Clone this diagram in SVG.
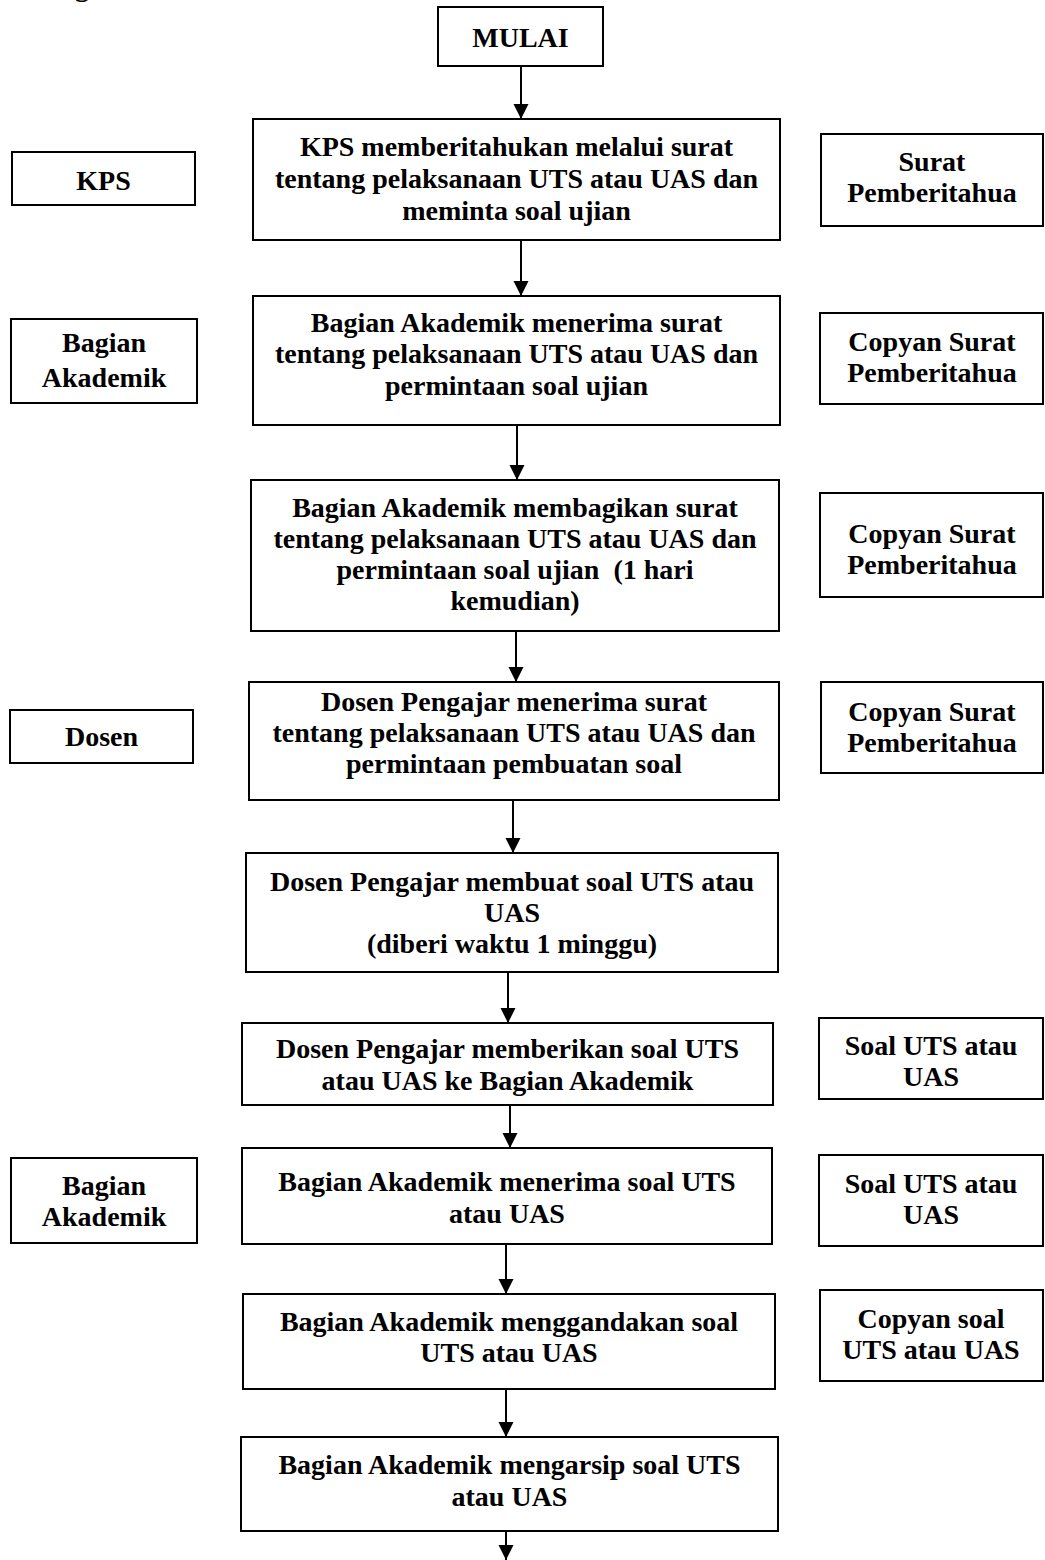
<svg xmlns="http://www.w3.org/2000/svg" width="1045" height="1560" viewBox="0 0 1045 1560">
<style>
.box{fill:#fff;stroke:#000;stroke-width:2}
.t{font-family:"Liberation Serif","Times New Roman",serif;font-weight:bold;font-size:28px;text-anchor:middle;fill:#000}
.c line{stroke:#000;stroke-width:2;marker-end:url(#ah)}
</style>
<defs>
<marker id="ah" markerUnits="userSpaceOnUse" markerWidth="16" markerHeight="16" refX="15" refY="7.5" orient="auto">
<path d="M0,0 L15,7.5 L0,15 z" fill="#000"/>
</marker>
</defs>
<rect width="1045" height="1560" fill="#fff"/>
<text class="t" x="82" y="-4">g</text>

<g id="mulai"><rect class="box" x="438" y="7" width="165" height="59"/><text class="t" x="520.5" y="47">MULAI</text></g>

<g id="p1"><rect class="box" x="253" y="119" width="527" height="121"/>
<text class="t" x="516.5" y="156">KPS memberitahukan melalui surat</text>
<text class="t" x="516.5" y="188">tentang pelaksanaan UTS atau UAS dan</text>
<text class="t" x="516.5" y="220">meminta soal ujian</text></g>

<g id="p2"><rect class="box" x="253" y="296" width="527" height="129"/>
<text class="t" x="516.5" y="332">Bagian Akademik menerima surat</text>
<text class="t" x="516.5" y="363">tentang pelaksanaan UTS atau UAS dan</text>
<text class="t" x="516.5" y="395">permintaan soal ujian</text></g>

<g id="p3"><rect class="box" x="251" y="480" width="528" height="151"/>
<text class="t" x="515" y="517">Bagian Akademik membagikan surat</text>
<text class="t" x="515" y="548">tentang pelaksanaan UTS atau UAS dan</text>
<text class="t" x="515" y="579" style="white-space:pre" xml:space="preserve">permintaan soal ujian  (1 hari</text>
<text class="t" x="515" y="610">kemudian)</text></g>

<g id="p4"><rect class="box" x="249" y="682" width="530" height="118"/>
<text class="t" x="514" y="711">Dosen Pengajar menerima surat</text>
<text class="t" x="514" y="742">tentang pelaksanaan UTS atau UAS dan</text>
<text class="t" x="514" y="773">permintaan pembuatan soal</text></g>

<g id="p5"><rect class="box" x="246" y="853" width="532" height="119"/>
<text class="t" x="512" y="891">Dosen Pengajar membuat soal UTS atau</text>
<text class="t" x="512" y="922">UAS</text>
<text class="t" x="512" y="953">(diberi waktu 1 minggu)</text></g>

<g id="p6"><rect class="box" x="242" y="1023" width="531" height="82"/>
<text class="t" x="507.5" y="1058">Dosen Pengajar memberikan soal UTS</text>
<text class="t" x="507.5" y="1090">atau UAS ke Bagian Akademik</text></g>

<g id="p7"><rect class="box" x="242" y="1148" width="530" height="96"/>
<text class="t" x="507" y="1191">Bagian Akademik menerima soal UTS</text>
<text class="t" x="507" y="1223">atau UAS</text></g>

<g id="p8"><rect class="box" x="243" y="1294" width="532" height="95"/>
<text class="t" x="509" y="1331">Bagian Akademik menggandakan soal</text>
<text class="t" x="509" y="1362">UTS atau UAS</text></g>

<g id="p9"><rect class="box" x="241" y="1437" width="537" height="94"/>
<text class="t" x="509.5" y="1474">Bagian Akademik mengarsip soal UTS</text>
<text class="t" x="509.5" y="1506">atau UAS</text></g>

<g id="l1"><rect class="box" x="12" y="152" width="183" height="53"/><text class="t" x="103.5" y="190">KPS</text></g>
<g id="l2"><rect class="box" x="11" y="319" width="186" height="84"/><text class="t" x="104" y="352">Bagian</text><text class="t" x="104" y="387">Akademik</text></g>
<g id="l3"><rect class="box" x="10" y="710" width="183" height="53"/><text class="t" x="101.5" y="746">Dosen</text></g>
<g id="l4"><rect class="box" x="11" y="1158" width="186" height="85"/><text class="t" x="104" y="1195">Bagian</text><text class="t" x="104" y="1226">Akademik</text></g>

<g id="r1"><rect class="box" x="821" y="134" width="222" height="92"/><text class="t" x="932" y="171">Surat</text><text class="t" x="932" y="202">Pemberitahua</text></g>
<g id="r2"><rect class="box" x="820" y="313" width="223" height="91"/><text class="t" x="932" y="351">Copyan Surat</text><text class="t" x="932" y="382">Pemberitahua</text></g>
<g id="r3"><rect class="box" x="820" y="493" width="223" height="104"/><text class="t" x="932" y="543">Copyan Surat</text><text class="t" x="932" y="574">Pemberitahua</text></g>
<g id="r4"><rect class="box" x="821" y="682" width="222" height="91"/><text class="t" x="932" y="721">Copyan Surat</text><text class="t" x="932" y="752">Pemberitahua</text></g>
<g id="r5"><rect class="box" x="819" y="1018" width="224" height="81"/><text class="t" x="931" y="1055">Soal UTS atau</text><text class="t" x="931" y="1086">UAS</text></g>
<g id="r6"><rect class="box" x="819" y="1155" width="224" height="91"/><text class="t" x="931" y="1193">Soal UTS atau</text><text class="t" x="931" y="1224">UAS</text></g>
<g id="r7"><rect class="box" x="820" y="1290" width="223" height="91"/><text class="t" x="931" y="1328">Copyan soal</text><text class="t" x="931" y="1359">UTS atau UAS</text></g>

<g id="connectors" class="c">
<line x1="521" y1="66" x2="521" y2="119"/>
<line x1="521" y1="240" x2="521" y2="296"/>
<line x1="517" y1="425" x2="517" y2="480"/>
<line x1="516" y1="631" x2="516" y2="682"/>
<line x1="513" y1="800" x2="513" y2="853"/>
<line x1="508" y1="972" x2="508" y2="1023"/>
<line x1="510" y1="1105" x2="510" y2="1148"/>
<line x1="506" y1="1244" x2="506" y2="1294"/>
<line x1="506" y1="1389" x2="506" y2="1437"/>
<line x1="506" y1="1531" x2="506" y2="1560"/>
</g>
</svg>
